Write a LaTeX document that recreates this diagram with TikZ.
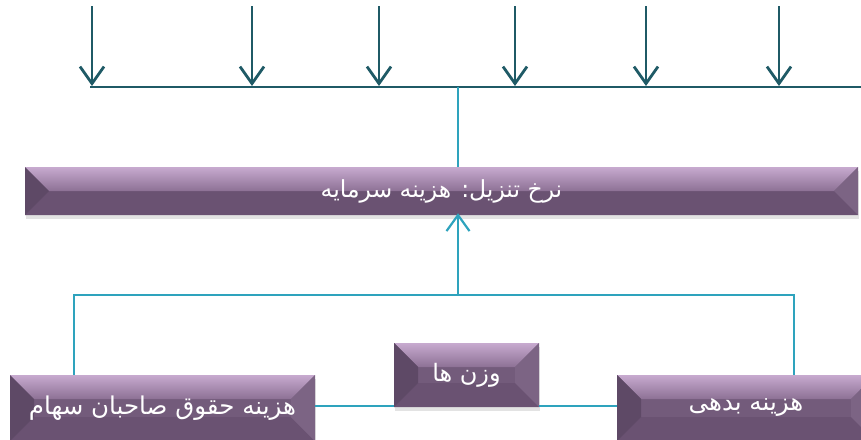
\documentclass[tikz,border=0pt]{standalone}
\usepackage{fontspec}
\TeXXeTstate=1
\newfontfamily\arabicfont[Script=Arabic]{DejaVu Sans}
\usetikzlibrary{arrows.meta,calc,shadows}
\definecolor{darkteal}{HTML}{1F5A66}
\definecolor{lightteal}{HTML}{2EA3BD}
\definecolor{bvtop}{HTML}{C7AACF}
\definecolor{bvtopb}{HTML}{8D7195}
\definecolor{bvleft}{HTML}{5E4966}
\definecolor{bvright}{HTML}{7C6484}
\definecolor{bvbottom}{HTML}{6A5272}
\definecolor{bvcenter}{HTML}{735B7B}
\tikzset{
  bevelbox/.style={rectangle, inner sep=0pt, text=white, font=\arabicfont\fontsize{#1}{#1}\selectfont,
    drop shadow={opacity=0.22, shadow xshift=1pt, shadow yshift=-4pt},
    fill=bvcenter,
    path picture={
      \coordinate (pNW) at (path picture bounding box.north west);
      \coordinate (pNE) at (path picture bounding box.north east);
      \coordinate (pSW) at (path picture bounding box.south west);
      \coordinate (pSE) at (path picture bounding box.south east);
      \coordinate (iNW) at ($(pNW)+(24pt,-24pt)$);
      \coordinate (iNE) at ($(pNE)+(-24pt,-24pt)$);
      \coordinate (iSW) at ($(pSW)+(24pt,24pt)$);
      \coordinate (iSE) at ($(pSE)+(-24pt,24pt)$);
      \fill[bvbottom] (pSW) -- (iSW) -- (iSE) -- (pSE) -- cycle;
      \shade[top color=bvtop, bottom color=bvtopb] (pNW) -- (pNE) -- (iNE) -- (iNW) -- cycle;
      \fill[bvleft] (pNW) -- (iNW) -- (iSW) -- (pSW) -- cycle;
      \fill[bvright] (pNE) -- (iNE) -- (iSE) -- (pSE) -- cycle;
    }},
  topline/.style={draw=darkteal, line width=2.8pt},
  toparrow/.style={draw=darkteal, line width=2.8pt, -{Straight Barb[length=17pt,width=24pt,line width=2.8pt]}},
  conn/.style={draw=lightteal, line width=2pt},
  connarrow/.style={draw=lightteal, line width=2pt, -{Straight Barb[length=16pt,width=23pt,line width=2.2pt]}},
}
\begin{document}
\begin{tikzpicture}[x=1pt,y=-1pt]
\useasboundingbox (0,0) rectangle (861,439);

% top arrows
\coordinate (hl) at (90,87);
\coordinate (hr) at (861,87);
\foreach \i/\x in {1/92,2/252,3/379,4/515,5/646,6/779}{
  \coordinate (t\i) at (\x,6);
  \coordinate (b\i) at (\x,86);
}
\foreach \i in {1,...,6}{ \draw[toparrow] (t\i) -- (b\i); }
\draw[topline] (hl) -- (hr);
\coordinate (hj) at (458,87);

% boxes
\node[bevelbox=23.5, minimum width=833, minimum height=48] (rate) at (441.5,191) {\beginR نرخ تنزیل: هزینه سرمایه\endR};
\node[bevelbox=24.5, minimum width=305, minimum height=66] (equity) at (162.5,408) {\beginR هزینه حقوق صاحبان سهام\endR};
\node[bevelbox=24, minimum width=145, minimum height=64] (weights) at (466.5,375) {\beginR وزن ها\endR};
\node[bevelbox=24.5, minimum width=258, minimum height=66] (debt) at (746,408) {\beginR هزینه بدهی\endR};

% connectors
\draw[conn] (hj) -- (rate.north -| hj);
\coordinate (jn) at (458,295);
\coordinate (jl) at (74,295);
\coordinate (jr) at (794,295);
\draw[conn] (equity.north -| jl) -- (jl) -- (jr) -- (debt.north -| jr);
\draw[connarrow] (jn) -- ($(rate.south -| jn)+(0,-2)$);
\draw[conn] (equity.east |- 0,406) -- (weights.west |- 0,406);
\draw[conn] (weights.east |- 0,406) -- (debt.west |- 0,406);
\end{tikzpicture}
\end{document}
